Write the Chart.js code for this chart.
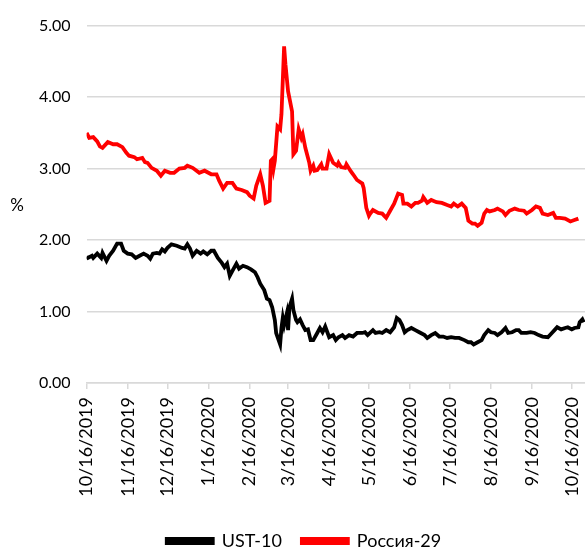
<!DOCTYPE html>
<html>
<head>
<meta charset="utf-8">
<script src="https://cdn.jsdelivr.net/npm/chart.js@4"></script>
<style>
  html, body { margin: 0; padding: 0; background: #fff; }
  #wrap { width: 585px; height: 552px; }
</style>
</head>
<body>
<div id="wrap"><canvas id="myChart"></canvas></div>
<script>
// x values are days since 10/16/2019

const tickDays = [0, 31, 61, 92, 123, 152, 183, 213, 244, 274, 305, 336, 366];
const tickLabels = ['10/16/2019', '11/16/2019', '12/16/2019', '1/16/2020', '2/16/2020', '3/16/2020',
    '4/16/2020', '5/16/2020', '6/16/2020', '7/16/2020', '8/16/2020', '9/16/2020', '10/16/2020'];

const ustDays = [0, 1, 4, 5, 8, 11, 12, 15, 17, 20, 23, 26, 28, 31, 34, 37, 40, 43, 46, 48, 50, 53, 55, 57, 59, 61, 64, 68, 72, 74,
    76, 78, 80, 83, 86, 88, 91, 94, 96, 99, 102, 104, 106, 108, 110, 113, 115, 118, 121, 124, 127, 129, 131, 134, 136, 138, 140,
    142, 143, 146, 147, 148, 149, 151, 152, 153, 155, 156, 158, 159, 161, 163, 165, 167, 169, 171, 174, 176, 178, 180, 183, 186,
    188, 190, 193, 195, 198, 201, 204, 208, 210, 212, 216, 218, 221, 223, 226, 229, 232, 234, 236, 238, 240, 242, 245, 248, 251,
    255, 257, 260, 263, 266, 269, 272, 275, 278, 281, 285, 288, 290, 292, 295, 298, 300, 303, 305, 308, 310, 313, 316, 318, 321,
    324, 326, 328, 332, 335, 338, 341, 344, 348, 351, 353, 355, 358, 361, 363, 366, 368, 371, 372, 374, 375];
const ustValues = [1.77, 1.75, 1.78, 1.75, 1.81, 1.75, 1.82, 1.71, 1.78, 1.85, 1.95, 1.95, 1.85, 1.81, 1.80, 1.75, 1.78, 1.81, 1.78,
    1.74, 1.81, 1.82, 1.81, 1.87, 1.84, 1.89, 1.94, 1.92, 1.89, 1.88,
    1.94, 1.88, 1.78, 1.85, 1.81, 1.84, 1.80, 1.85, 1.85, 1.75, 1.68, 1.62, 1.67, 1.50, 1.57, 1.67, 1.60, 1.64, 1.62, 1.59, 1.55,
    1.48, 1.39, 1.30, 1.18, 1.16, 1.06,
    0.88, 0.70, 0.54, 0.77, 0.91, 0.81, 0.97, 0.74, 1.06, 1.18, 1.02, 0.88, 0.85, 0.89, 0.81, 0.74, 0.75, 0.60, 0.60, 0.70, 0.77,
    0.71, 0.79, 0.64, 0.67,
    0.60, 0.64, 0.67, 0.63, 0.67, 0.65, 0.70, 0.70, 0.71, 0.67, 0.74, 0.70, 0.71, 0.70, 0.74, 0.71, 0.78, 0.91, 0.88, 0.81, 0.71,
    0.74, 0.77, 0.74, 0.71,
    0.67, 0.63, 0.67, 0.70, 0.65, 0.65, 0.63, 0.64, 0.63, 0.63, 0.60, 0.57, 0.57, 0.54, 0.57, 0.60, 0.67, 0.74, 0.71, 0.70, 0.67,
    0.71, 0.77, 0.70, 0.71,
    0.74, 0.74, 0.70, 0.70, 0.71, 0.70, 0.67, 0.65, 0.64, 0.70, 0.74, 0.78, 0.75, 0.77, 0.78, 0.75, 0.77, 0.78, 0.85, 0.89, 0.85];

const rusDays = [0, 2, 5, 8, 10, 12, 16, 20, 23, 27, 30, 32, 36, 38, 42, 44, 46, 49, 53, 56, 59, 63, 66, 70, 74, 76, 80, 85, 89, 94,
    98, 100, 103, 106, 110, 113, 117, 121, 123, 126, 128, 131, 133, 135, 138, 139, 140, 141, 142, 144, 146, 147, 149, 150, 152,
    155, 156, 158, 160, 162, 163, 165, 168, 169, 171, 172, 174, 177, 178, 181, 183, 186, 189, 190, 192, 195, 196, 199, 201, 204,
    208, 209, 211, 213, 214, 216, 220, 223, 226, 229, 232, 235, 238, 239, 242, 245, 248, 250, 253, 254, 257, 260, 264, 268, 272,
    275, 277, 280, 283, 286, 288, 291, 293, 295, 298, 300, 302, 304, 308, 310, 314, 316, 319, 323, 326, 330, 332, 336, 339, 342,
    344, 348, 352, 354, 357, 361, 365, 368, 371];
const rusValues = [3.50, 3.43, 3.44, 3.38, 3.31, 3.29, 3.37, 3.34, 3.34, 3.30, 3.22, 3.18, 3.16, 3.13, 3.15, 3.09, 3.08, 3.01, 2.97,
    2.90, 2.97, 2.94, 2.94, 3.00, 3.01, 3.04, 3.01, 2.94, 2.97, 2.92,
    2.92, 2.83, 2.72, 2.80, 2.80, 2.72, 2.70, 2.67, 2.62, 2.58, 2.76, 2.92, 2.76, 2.52, 2.55, 3.11, 3.13, 3.00, 3.11, 3.59, 3.55,
    3.76, 4.71, 4.46, 4.08,
    3.80, 3.20, 3.25, 3.55, 3.43, 3.48, 3.29, 3.08, 2.97, 3.04, 2.97, 2.98, 3.06, 3.00, 3.00, 3.20, 3.08, 3.04, 3.08, 3.02, 3.01,
    3.06, 2.97, 2.92, 2.84,
    2.79, 2.73, 2.45, 2.34, 2.37, 2.42, 2.38, 2.37, 2.31, 2.41, 2.51, 2.65, 2.63, 2.51, 2.51, 2.47, 2.52, 2.52, 2.55, 2.60, 2.52,
    2.56, 2.53, 2.52, 2.49,
    2.47, 2.51, 2.47, 2.51, 2.45, 2.27, 2.23, 2.23, 2.20, 2.24, 2.37, 2.42, 2.40, 2.42, 2.44, 2.40, 2.35, 2.41, 2.44, 2.42, 2.41,
    2.37, 2.42, 2.47, 2.45,
    2.37, 2.35, 2.38, 2.31, 2.31, 2.30, 2.26, 2.28, 2.30];

function toPoints(days, values){
    return days.map((d, i) => ({x: d, y: values[i]}));
}

// upright "%" to the left of the value axis
const percentLabel = {
    id: 'percentLabel',
    afterDraw(chart){
        const ctx = chart.ctx;
        ctx.save();
        ctx.font = '17px Lato';
        ctx.fillStyle = '#000';
        ctx.textAlign = 'center';
        ctx.textBaseline = 'middle';
        ctx.fillText('%', 17, 206);
        ctx.restore();
    }
};

Chart.defaults.font.family = 'Lato';
Chart.defaults.color = '#000';

const ctx = document.getElementById('myChart');
const myChart = new Chart(ctx, {
    type: 'line',
    data: {
        datasets: [
            {
                label: 'UST-10',
                data: toPoints(ustDays, ustValues),
                borderColor: '#000000',
                backgroundColor: '#000000',
                borderWidth: 3.8,
                pointRadius: 0,
                tension: 0
            },
            {
                label: 'Россия-29',
                data: toPoints(rusDays, rusValues),
                borderColor: '#ff0000',
                backgroundColor: '#ff0000',
                borderWidth: 3.8,
                pointRadius: 0,
                tension: 0
            }
        ]
    },
    options: {
        responsive: true,
        maintainAspectRatio: false,
        animation: false,
        layout: {
            padding: {left: 23, right: 0, top: 14, bottom: -8}
        },
        plugins: {
            tooltip: {enabled: false},
            legend: {
                position: 'bottom',
                labels: {
                    boxWidth: 46,
                    boxHeight: 4,
                    padding: 20,
                    font: {size: 18}
                }
            }
        },
        scales: {
            x: {
                type: 'linear',
                min: 0,
                max: 376,
                afterBuildTicks: function(scale){
                    scale.ticks = tickDays.map(v => ({value: v}));
                },
                afterFit: function(scale){
                    scale.height = 129;
                    scale.paddingLeft = 0;
                    scale.paddingRight = 0;
                },
                ticks: {
                    autoSkip: false,
                    maxRotation: 90,
                    minRotation: 90,
                    padding: 8,
                    font: {size: 18},
                    callback: function(val){
                        const i = tickDays.indexOf(val);
                        return i >= 0 ? tickLabels[i] : '';
                    }
                },
                grid: {
                    drawOnChartArea: false,
                    drawTicks: true,
                    tickLength: 6,
                    color: '#d9d9d9',
                    lineWidth: 1.5
                },
                border: {color: '#d9d9d9', width: 1.5}
            },
            y: {
                min: 0,
                max: 5,
                ticks: {
                    stepSize: 1,
                    padding: 16,
                    font: {size: 16},
                    callback: function(val){
                        return val.toFixed(2);
                    }
                },
                grid: {
                    color: '#d9d9d9',
                    lineWidth: 1.5,
                    drawTicks: false
                },
                border: {display: false}
            }
        }
    },
    plugins: [percentLabel]
});
</script>
</body>
</html>
